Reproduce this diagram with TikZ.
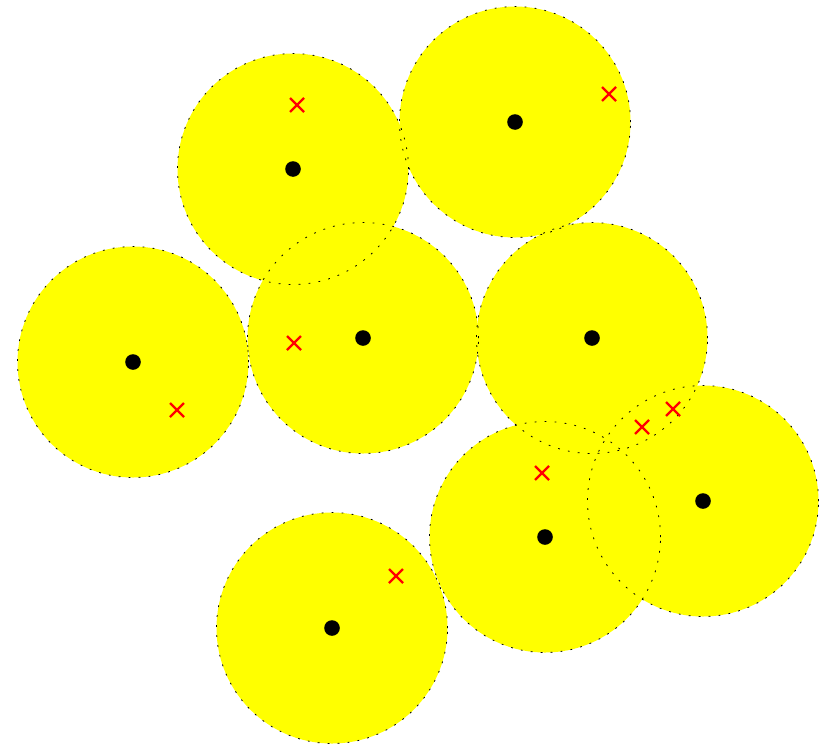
\documentclass[tikz,border=0pt]{standalone}
\definecolor{pureyellow}{RGB}{255,255,0}
\definecolor{purered}{RGB}{255,0,0}
\begin{document}
\begin{tikzpicture}[x=1pt,y=-1pt,
  disk/.style={fill=pureyellow},
  rim/.style={draw=black,line width=0.8pt,dash pattern=on 1.8pt off 8.2pt},
  ctr/.style={fill=black},
  cross/.style={draw=purered,line width=2.3pt}]
\useasboundingbox (0,0) rectangle (832,744);
\def\centers{293/169,515/122,133/362,363/338,592/338,703/501,545/537,332/628}
\foreach \x/\y in \centers {\fill[disk] (\x,\y) circle[radius=115.5pt];}
\foreach \x/\y in \centers {\draw[rim] (\x,\y) circle[radius=115.5pt];}
\foreach \x/\y in \centers {\fill[ctr] (\x,\y) circle[radius=7.8pt];}
\foreach \x/\y in {297/105,609/94,177/410,294/343,542/473,642/427,673/409,396/576}
  {\draw[cross] (\x-7,\y-7) -- (\x+7,\y+7) (\x-7,\y+7) -- (\x+7,\y-7);}
\end{tikzpicture}
\end{document}
